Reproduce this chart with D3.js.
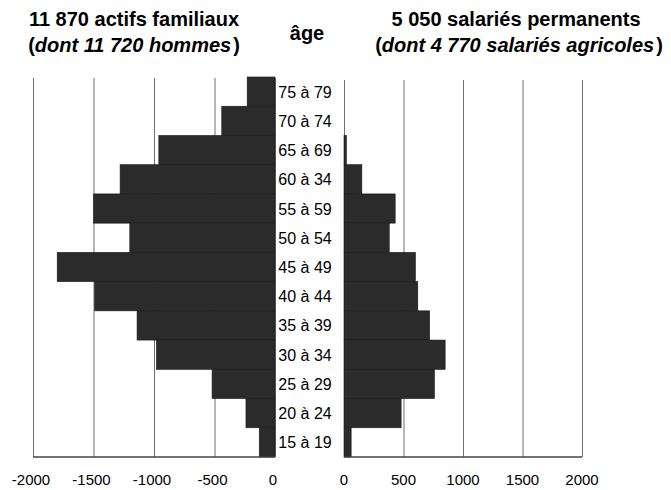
<!DOCTYPE html>
<html>
<head>
<meta charset="utf-8">
<script src="https://cdn.jsdelivr.net/npm/d3@7"></script>
<style>
  body { margin: 0; background: #fff; }
  svg { display: block; font-family: "Liberation Sans", Arial, sans-serif; }
</style>
</head>
<body>
<svg id="chart" width="671" height="490"></svg>
<script>
// age groups, top to bottom (label "60 à 34" kept as printed)
const ages = ['75 à 79', '70 à 74', '65 à 69', '60 à 34', '55 à 59', '50 à 54', '45 à 49',
              '40 à 44', '35 à 39', '30 à 34', '25 à 29', '20 à 24', '15 à 19'];
// actifs familiaux per age group
const familiaux = [230, 440, 960, 1280, 1500, 1200, 1800, 1490, 1140, 980, 520, 240, 130];
// salariés permanents per age group
const salaries = [0, 0, 20, 150, 430, 380, 600, 620, 720, 850, 760, 480, 60];
const leftTicks = [-2000, -1500, -1000, -500, 0];
const rightTicks = [0, 500, 1000, 1500, 2000];

const svg = d3.select('#chart');

const y = d3.scaleBand().domain(ages).range([77, 457]).padding(0);
const xL = d3.scaleLinear().domain([-2000, 0]).range([33, 275]);
const xR = d3.scaleLinear().domain([0, 2000]).range([344, 582]);

const barColor = '#2b2b2b';
const gridColor = '#6e6e6e';

// gridlines
svg.append('g')
    .attr('transform', 'translate(0,457)')
    .call(d3.axisBottom(xL).tickValues(leftTicks).tickSize(-379).tickFormat(''))
    .call(g => g.select('.domain').remove())
    .call(g => g.selectAll('line').attr('stroke', gridColor));

svg.append('g')
    .attr('transform', 'translate(0,457)')
    .call(d3.axisBottom(xR).tickValues(rightTicks).tickSize(-377).tickFormat(''))
    .call(g => g.select('.domain').remove())
    .call(g => g.selectAll('line').attr('stroke', gridColor));

// bars
svg.append('g').selectAll('rect')
    .data(familiaux)
    .join('rect')
    .attr('x', d => xL(-d))
    .attr('y', (d, i) => y(ages[i]))
    .attr('width', d => xL(0) - xL(-d))
    .attr('height', y.bandwidth())
    .attr('fill', barColor)
    .attr('stroke', '#1a1a1a')
    .attr('stroke-width', 0.6);

svg.append('g').selectAll('rect')
    .data(salaries)
    .join('rect')
    .attr('x', xR(0))
    .attr('y', (d, i) => y(ages[i]))
    .attr('width', d => xR(d) - xR(0))
    .attr('height', y.bandwidth())
    .attr('fill', barColor)
    .attr('stroke', '#1a1a1a')
    .attr('stroke-width', d => d > 0 ? 0.6 : 0);

// baselines
svg.append('line').attr('x1', xL(-2000)).attr('x2', xL(0)).attr('y1', 457).attr('y2', 457)
    .attr('stroke', '#444').attr('stroke-width', 1.4);
svg.append('line').attr('x1', xR(0)).attr('x2', xR(2000)).attr('y1', 457).attr('y2', 457)
    .attr('stroke', '#444').attr('stroke-width', 1.4);

// tick labels
svg.append('g').selectAll('text')
    .data(leftTicks)
    .join('text')
    .attr('x', d => xL(d) - 2)
    .attr('y', 485)
    .attr('text-anchor', 'middle')
    .attr('font-size', 15)
    .text(d => d);

svg.append('g').selectAll('text')
    .data(rightTicks)
    .join('text')
    .attr('x', d => xR(d))
    .attr('y', 485)
    .attr('text-anchor', 'middle')
    .attr('font-size', 15)
    .text(d => d);

// age labels
svg.append('g').selectAll('text')
    .data(ages)
    .join('text')
    .attr('x', 305)
    .attr('y', d => y(d) + y.bandwidth() / 2 + 6)
    .attr('text-anchor', 'middle')
    .attr('font-size', 16)
    .text(d => d);

// titles
const title = (x, yy, txt) => svg.append('text')
    .attr('x', x).attr('y', yy)
    .attr('text-anchor', 'middle')
    .attr('font-size', 20)
    .attr('font-weight', 'bold')
    .text(txt);

// subtitles: italic text inside upright parentheses
const subtitle = (x, yy, txt) => {
    const t = svg.append('text')
        .attr('x', x).attr('y', yy)
        .attr('text-anchor', 'middle')
        .attr('font-size', 20)
        .attr('font-weight', 'bold');
    t.append('tspan').text('(');
    t.append('tspan').attr('font-style', 'italic').text(txt);
    t.append('tspan').attr('dx', 2).text(')');
};

title(134, 26, '11 870 actifs familiaux');
subtitle(134, 52, 'dont 11 720 hommes');
title(307, 40, 'âge');
title(516, 26, '5 050 salariés permanents');
subtitle(519, 52, 'dont 4 770 salariés agricoles');
</script>
</body>
</html>
